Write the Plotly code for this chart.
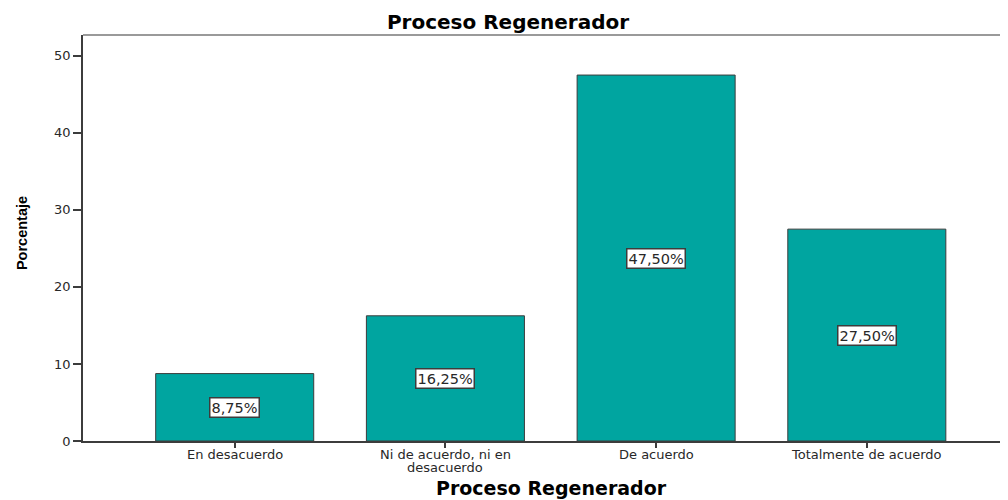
import plotly.graph_objects as go

# Data
categorias = ["En desacuerdo", "Ni de acuerdo, ni en<br>desacuerdo", "De acuerdo", "Totalmente de acuerdo"]
porcentajes = [8.75, 16.25, 47.50, 27.50]
etiquetas = ["8,75%", "16,25%", "47,50%", "27,50%"]
y_ticks = [0, 10, 20, 30, 40, 50]

teal = 'rgb(0,165,160)'
dark = 'rgb(60,60,60)'
txt = 'rgb(40,40,40)'
font_main = "DejaVu Sans, Liberation Sans, Arial"

fig = go.Figure()
fig.add_trace(go.Bar(
    x=list(range(len(categorias))),
    y=porcentajes,
    width=0.75,
    marker=dict(color=teal, line=dict(color=dark, width=1)),
    hoverinfo='skip'
))

# Boxed value labels in the middle of each bar
for i, (v, t) in enumerate(zip(porcentajes, etiquetas)):
    fig.add_annotation(
        x=i, y=v / 2, text=t, showarrow=False,
        font=dict(family=font_main, size=14.5, color=txt),
        bgcolor='white', bordercolor=dark, borderwidth=1.5, borderpad=1
    )

# category labels as annotations (tight line spacing like the original)
for i, lab in enumerate(categorias):
    for j, line in enumerate(lab.split("<br>")):
        fig.add_annotation(
            x=i, y=0, yanchor='middle', yshift=-(13 + j * 13),
            text=line, showarrow=False, borderpad=0,
            font=dict(family=font_main, size=13, color=txt)
        )

# x-axis title
fig.add_annotation(
    xref='paper', yref='paper', x=0.506, y=-0.116, xanchor='center', yanchor='middle',
    text="<b>Proceso Regenerador</b>", showarrow=False, borderpad=0,
    font=dict(family=font_main, size=19, color='black')
)
# y-axis title
fig.add_annotation(
    xref='paper', yref='paper', x=-0.066, y=0.512, xanchor='center', yanchor='middle',
    text="<b>Porcentaje</b>", showarrow=False, textangle=-90,
    font=dict(family="Liberation Sans Narrow, Arial Narrow, Liberation Sans", size=14.5, color='black')
)

fig.update_layout(
    width=1000, height=492,
    title=dict(text="<b>Proceso Regenerador</b>", x=0.5, xanchor='center', y=0.9715, yanchor='middle',
               font=dict(family=font_main, size=20, color='black')),
    plot_bgcolor='white',
    paper_bgcolor='white',
    margin=dict(l=75, r=0, t=27, b=59),
    showlegend=False,
    xaxis=dict(
        tickmode='array', tickvals=list(range(len(categorias))),
        showticklabels=False,
        range=[-0.72, 3.67],
        showline=True, linecolor=dark, linewidth=1.5,
        ticks='outside', ticklen=5, tickcolor=dark, tickwidth=2,
        showgrid=False, zeroline=False,
    ),
    yaxis=dict(
        range=[0, 52.7], tickvals=y_ticks,
        showline=True, linecolor=dark, linewidth=1.5,
        ticks='outside', ticklen=8, tickcolor=dark, tickwidth=1.5,
        tickfont=dict(family=font_main, size=13, color=txt),
        showgrid=False, zeroline=False,
    ),
    shapes=[dict(type='line', xref='paper', yref='paper', x0=0, x1=1, y0=1, y1=1,
                 line=dict(color='rgb(120,120,120)', width=1.5))]
)

fig.write_html("out.html")
